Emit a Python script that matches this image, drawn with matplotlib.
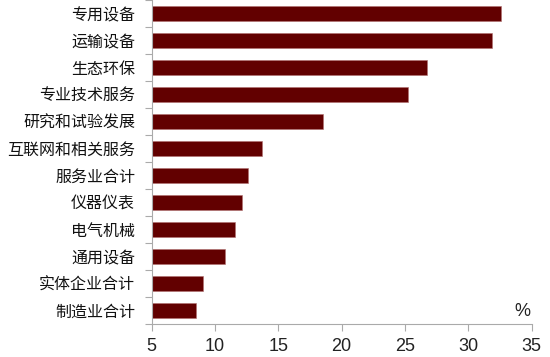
import matplotlib
matplotlib.use("Agg")
import matplotlib.pyplot as plt

plt.rcParams['font.family'] = ['Liberation Sans', 'Noto Sans CJK SC', 'DejaVu Sans']

categories = ['专用设备', '运输设备', '生态环保', '专业技术服务', '研究和试验发展',
              '互联网和相关服务', '服务业合计', '仪器仪表', '电气机械', '通用设备',
              '实体企业合计', '制造业合计']
values = [32.6, 31.9, 26.7, 25.2, 18.5, 13.7, 12.6, 12.1, 11.6, 10.8, 9.05, 8.5]
xticks = [5, 10, 15, 20, 25, 30, 35]

fig = plt.figure(figsize=(5.5, 3.57), dpi=100)
ax = fig.add_axes([0.2758, 0.0924, 0.6909, 0.9076])

n = len(categories)
ypos = list(range(n))[::-1]
base = 5
ax.barh(ypos, [v - base for v in values], left=base, height=0.52,
        color='#620000', edgecolor='#b07070', linewidth=0.4)

ax.set_xlim(5, 35)
ax.set_ylim(-0.5, n - 0.5)
ax.set_xticks(xticks)
ax.set_xticklabels([str(t) for t in xticks], fontsize=13, color='#222222')

ax.set_yticks(ypos)
ax.set_yticklabels(categories, fontsize=11.5, color='#111111',
                   family=['Noto Sans CJK SC', 'DejaVu Sans'])
ax.tick_params(axis='y', length=0, pad=12)
# boundary ticks between categories on the left spine
ax.set_yticks([i + 0.5 for i in range(-1, n)], minor=True)
ax.tick_params(axis='y', which='minor', length=5, color='#aaaaaa', width=0.8)
ax.tick_params(axis='x', length=5, color='#aaaaaa', width=0.8, pad=5)

for s in ['top', 'right']:
    ax.spines[s].set_visible(False)
for s in ['left', 'bottom']:
    ax.spines[s].set_color('#aaaaaa')
    ax.spines[s].set_linewidth(0.8)

ax.text(34.9, -0.35, '%', fontsize=13, color='#222222', ha='right', va='bottom')

fig.savefig('out.png', dpi=100)
